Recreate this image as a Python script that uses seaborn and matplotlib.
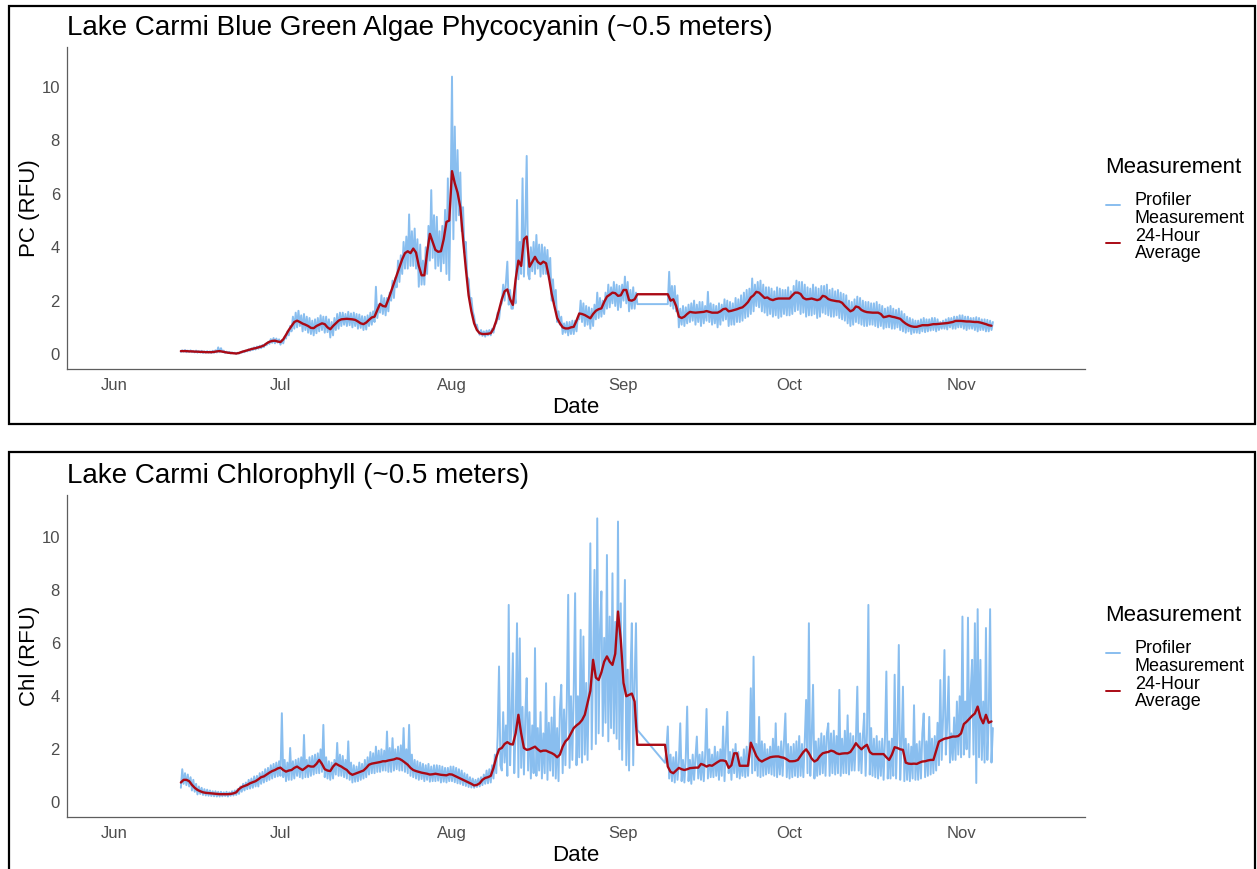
import pandas as pd
import matplotlib
matplotlib.use("Agg")
import matplotlib.pyplot as plt
import matplotlib.dates as mdates
from matplotlib.lines import Line2D
from matplotlib.patches import Rectangle
import seaborn as sns

# ---------------------------------------------------------------------------
# Profiler readings every 6 h and 24-hour averages every 12 h, 13 Jun - 6 Nov.
# None marks the early-September gap in the record.
# ---------------------------------------------------------------------------
START = "2018-06-13"

pc_profiler = [
    0.08, 0.14, 0.09, 0.15,  0.07, 0.13, 0.08, 0.14,   # Jun 13-14
    0.07, 0.12, 0.06, 0.13,  0.05, 0.11, 0.06, 0.12,
    0.04, 0.10, 0.05, 0.11,  0.05, 0.10, 0.04, 0.12,
    0.05, 0.14, 0.06, 0.25,  0.07, 0.22, 0.08, 0.13,
    0.04, 0.09, 0.05, 0.08,  0.02, 0.06, 0.03, 0.05,
    0.01, 0.05, 0.02, 0.07,  0.05, 0.11, 0.07, 0.13,
    0.10, 0.18, 0.12, 0.21,  0.15, 0.25, 0.17, 0.28,
    0.20, 0.31, 0.22, 0.34,  0.26, 0.38, 0.33, 0.45,
    0.38, 0.56, 0.42, 0.60,  0.40, 0.58, 0.43, 0.55,
    0.35, 0.52, 0.40, 0.65,  0.58, 0.85, 0.70, 1.05,   # Jun 30 - Jul 1
    0.85, 1.40, 0.95, 1.55,  1.00, 1.62, 1.05, 1.45,
    0.85, 1.50, 0.90, 1.40,  0.80, 1.35, 0.75, 1.25,
    0.70, 1.30, 0.78, 1.35,  0.85, 1.45, 0.90, 1.40,
    0.80, 1.40, 0.82, 1.30,  0.62, 1.20, 0.70, 1.35,
    0.90, 1.50, 0.95, 1.55,  1.05, 1.55, 1.10, 1.50,
    1.05, 1.58, 1.08, 1.52,  1.00, 1.55, 1.05, 1.50,
    0.95, 1.48, 0.98, 1.42,  0.90, 1.40, 0.92, 1.45,
    1.05, 1.55, 1.10, 1.60,  1.20, 2.52, 1.35, 1.85,
    1.55, 2.20, 1.50, 2.10,  1.45, 2.10, 1.60, 2.30,
    2.00, 2.75, 2.10, 2.85,  2.50, 3.50, 2.70, 3.70,
    3.00, 4.20, 3.20, 4.40,  3.20, 5.23, 3.30, 4.60,
    3.30, 4.70, 3.20, 4.30,  2.52, 4.10, 2.60, 3.50,
    2.60, 4.00, 3.00, 4.80,  3.50, 6.14, 3.60, 5.20,
    3.20, 5.14, 3.30, 4.60,  3.10, 4.80, 3.40, 5.40,
    3.00, 6.58, 2.77, 5.80,  10.39, 4.30, 8.52, 5.00,  # Jul 31 - Aug 1
    7.64, 5.20, 6.80, 4.60,  5.50, 3.80, 4.20, 2.90,
    2.80, 2.00, 2.10, 1.60,  1.40, 1.05, 1.10, 0.85,
    0.72, 0.90, 0.68, 0.85,  0.65, 0.88, 0.70, 0.90,
    0.70, 0.95, 0.80, 1.10,  1.15, 1.55, 1.30, 1.80,
    1.90, 2.60, 2.00, 2.70,  3.46, 1.85, 2.40, 1.70,
    1.70, 2.30, 1.90, 5.77,  2.80, 4.20, 3.00, 6.58,
    2.90, 4.80, 7.42, 3.00,  2.80, 4.00, 3.10, 4.20,
    3.00, 4.46, 3.20, 4.10,  2.90, 4.10, 3.00, 4.00,
    3.00, 3.90, 2.80, 3.60,  2.00, 2.80, 1.90, 2.40,
    1.20, 1.60, 1.10, 1.40,  0.75, 1.15, 0.80, 1.20,
    0.70, 1.20, 0.75, 1.25,  0.75, 1.25, 0.85, 1.40,
    1.30, 2.00, 1.20, 1.90,  1.05, 1.80, 1.10, 1.75,
    0.95, 1.70, 1.05, 1.85,  1.30, 2.30, 1.35, 2.10,
    1.40, 2.00, 1.50, 2.30,  1.70, 2.60, 1.75, 2.50,
    1.90, 2.70, 1.80, 2.60,  1.65, 2.55, 1.75, 2.60,   # Aug 30-31
    2.00, 2.90, 1.90, 2.70,  1.60, 2.40, 1.70, 2.50,
    1.70, 2.30, 1.87, None,  None, None, None, None,
    None, None, None, None,  None, None, None, None,
    None, None, None, None,  None, None, None, None,
    1.87, 3.08, 1.80, 2.55,  1.70, 2.55, 1.60, 2.20,
    1.00, 1.70, 1.10, 1.80,  1.05, 1.75, 1.15, 1.85,
    1.20, 1.90, 1.25, 2.00,  1.10, 1.85, 1.20, 1.95,
    1.05, 1.95, 1.15, 1.80,  1.25, 2.33, 1.20, 1.90,
    1.10, 1.85, 1.15, 1.80,  1.00, 1.90, 1.10, 1.85,
    1.25, 2.05, 1.30, 2.00,  1.05, 1.95, 1.10, 1.90,
    1.10, 2.10, 1.20, 2.05,  1.20, 2.20, 1.25, 2.30,
    1.35, 2.40, 1.40, 2.45,  1.50, 2.83, 1.60, 2.60,
    1.80, 2.70, 1.75, 2.75,  1.60, 2.60, 1.55, 2.50,
    1.45, 2.50, 1.50, 2.45,  1.40, 2.35, 1.45, 2.50,
    1.35, 2.45, 1.40, 2.40,  1.50, 2.40, 1.45, 2.50,
    1.45, 2.35, 1.50, 2.55,  1.60, 2.75, 1.65, 2.70,
    1.50, 2.70, 1.55, 2.60,  1.40, 2.50, 1.45, 2.45,
    1.45, 2.60, 1.50, 2.50,  1.35, 2.45, 1.40, 2.55,
    1.55, 2.55, 1.50, 2.60,  1.45, 2.40, 1.40, 2.45,
    1.40, 2.35, 1.45, 2.40,  1.35, 2.30, 1.30, 2.25,
    1.25, 2.20, 1.15, 2.00,  1.05, 1.95, 1.10, 2.05,
    1.20, 2.15, 1.15, 2.10,  1.10, 2.00, 1.05, 1.95,
    1.05, 1.95, 1.10, 1.90,  1.10, 1.90, 1.05, 1.95,
    1.00, 1.85, 1.05, 1.80,  0.95, 1.70, 1.00, 1.75,
    1.00, 1.80, 0.95, 1.70,  0.95, 1.65, 1.00, 1.70,
    0.90, 1.60, 0.85, 1.50,  0.80, 1.40, 0.85, 1.35,
    0.75, 1.30, 0.80, 1.25,  0.80, 1.25, 0.78, 1.30,
    0.85, 1.35, 0.82, 1.30,  0.85, 1.30, 0.88, 1.35,
    0.90, 1.35, 0.85, 1.30,  0.90, 1.20, 0.95, 1.25,
    0.95, 1.30, 0.92, 1.35,  1.00, 1.35, 0.95, 1.40,
    0.95, 1.40, 1.00, 1.45,  1.00, 1.45, 0.95, 1.40,
    0.90, 1.40, 0.95, 1.35,  0.95, 1.35, 0.90, 1.38,
    0.85, 1.35, 0.90, 1.30,  0.90, 1.30, 0.85, 1.28,
    0.85, 1.25, 0.90, 1.20,                            # Nov 6
]

pc_daily = [
    0.11, 0.11, 0.11, 0.10, 0.10, 0.09, 0.09, 0.08, 0.08, 0.07,
    0.07, 0.07, 0.08, 0.10, 0.11, 0.09, 0.07, 0.05, 0.04, 0.03,
    0.02, 0.04, 0.08, 0.11, 0.14, 0.17, 0.20, 0.22, 0.25, 0.28,
    0.32, 0.40, 0.46, 0.49, 0.50, 0.47, 0.45, 0.55, 0.72, 0.90,
    1.05, 1.20, 1.25, 1.20, 1.14, 1.10, 1.05, 0.98, 0.97, 1.05,
    1.10, 1.15, 1.12, 1.00, 0.93, 1.05, 1.15, 1.25, 1.30, 1.31,
    1.32, 1.31, 1.30, 1.28, 1.22, 1.15, 1.12, 1.18, 1.28, 1.37,
    1.40, 1.65, 1.88, 1.80, 1.78, 2.05, 2.35, 2.65, 2.95, 3.25,
    3.55, 3.78, 3.85, 3.78, 3.95, 3.80, 3.30, 2.95, 2.95, 3.80,
    4.50, 4.20, 3.90, 3.83, 3.85, 4.30, 4.95, 5.00, 6.85, 6.40,
    6.05, 5.50, 4.30, 3.20, 2.20, 1.60, 1.15, 0.90, 0.78, 0.75,
    0.75, 0.76, 0.78, 0.95, 1.25, 1.65, 2.05, 2.35, 2.42, 2.05,
    1.84, 2.80, 3.50, 3.30, 4.30, 4.40, 3.27, 3.45, 3.64, 3.45,
    3.37, 3.46, 3.40, 2.90, 2.27, 1.80, 1.35, 1.15, 1.00, 0.96,
    0.96, 1.00, 1.02, 1.25, 1.52, 1.50, 1.46, 1.40, 1.34, 1.50,
    1.62, 1.68, 1.71, 1.95, 2.15, 2.22, 2.30, 2.28, 2.18, 2.20,
    2.40, 2.40, 2.02, 2.00, 2.05, 2.24, 2.24, None, None, None,
    None, None, None, None, None, 2.24, 2.24, 2.00, 2.05, 1.80,
    1.40, 1.35, 1.40, 1.50, 1.58, 1.56, 1.55, 1.56, 1.57, 1.58,
    1.61, 1.58, 1.55, 1.55, 1.55, 1.60, 1.68, 1.70, 1.60, 1.62,
    1.65, 1.68, 1.72, 1.75, 1.84, 1.95, 2.12, 2.20, 2.33, 2.30,
    2.20, 2.10, 2.12, 2.05, 2.02, 2.06, 2.08, 2.08, 2.08, 2.08,
    2.08, 2.20, 2.30, 2.30, 2.25, 2.10, 2.05, 2.06, 2.08, 2.05,
    2.02, 2.05, 2.18, 2.15, 2.06, 2.02, 2.00, 1.98, 1.97, 1.92,
    1.80, 1.70, 1.60, 1.65, 1.78, 1.75, 1.65, 1.60, 1.57, 1.56,
    1.55, 1.55, 1.55, 1.50, 1.38, 1.40, 1.43, 1.40, 1.38, 1.35,
    1.32, 1.22, 1.14, 1.08, 1.04, 1.02, 1.02, 1.05, 1.08, 1.08,
    1.08, 1.10, 1.12, 1.12, 1.13, 1.14, 1.15, 1.16, 1.18, 1.20,
    1.24, 1.24, 1.24, 1.23, 1.22, 1.22, 1.21, 1.20, 1.20, 1.18,
    1.15, 1.12, 1.08, 1.06,
]

chl_profiler = [
    0.55, 1.25, 0.70, 1.10,  0.65, 1.05, 0.60, 0.95,   # Jun 13-14
    0.45, 0.85, 0.40, 0.70,  0.30, 0.60, 0.32, 0.55,
    0.28, 0.50, 0.26, 0.48,  0.25, 0.45, 0.24, 0.42,
    0.23, 0.42, 0.22, 0.40,  0.22, 0.40, 0.23, 0.38,
    0.24, 0.40, 0.22, 0.38,  0.25, 0.42, 0.26, 0.45,
    0.28, 0.50, 0.32, 0.60,  0.40, 0.70, 0.45, 0.75,
    0.50, 0.85, 0.52, 0.90,  0.55, 0.98, 0.60, 1.00,
    0.60, 1.10, 0.70, 1.15,  0.75, 1.25, 0.80, 1.30,
    0.85, 1.40, 0.90, 1.45,  0.95, 1.50, 0.98, 1.55,
    1.00, 3.36, 0.95, 1.60,  0.80, 1.50, 0.85, 2.05,   # Jun 30 - Jul 1
    0.85, 1.55, 0.90, 1.60,  1.00, 1.65, 0.95, 1.70,
    0.90, 2.54, 0.95, 1.60,  0.95, 1.70, 1.00, 1.75,
    1.05, 1.80, 1.10, 1.85,  1.10, 2.00, 1.15, 2.92,
    0.95, 1.70, 0.90, 1.55,  0.85, 1.50, 0.90, 1.60,
    1.05, 2.24, 1.00, 1.80,  1.00, 1.75, 0.95, 1.60,
    0.90, 2.30, 0.85, 1.50,  0.75, 1.40, 0.78, 1.35,
    0.80, 1.50, 0.85, 1.45,  0.90, 1.60, 0.95, 1.70,
    1.05, 1.90, 1.10, 1.85,  1.10, 2.10, 1.15, 1.95,
    1.15, 2.00, 1.20, 1.95,  1.20, 2.67, 1.15, 2.05,
    1.15, 2.42, 1.20, 2.00,  1.25, 2.10, 1.20, 2.15,
    1.20, 2.80, 1.15, 2.00,  1.10, 2.92, 1.00, 1.80,
    0.95, 1.60, 0.90, 1.55,  0.85, 1.50, 0.88, 1.45,
    0.80, 1.40, 0.85, 1.45,  0.78, 1.35, 0.80, 1.40,
    0.80, 1.40, 0.82, 1.38,  0.75, 1.35, 0.78, 1.30,
    0.75, 1.30, 0.80, 1.35,  0.80, 1.35, 0.76, 1.30,   # Jul 31 - Aug 1
    0.72, 1.25, 0.70, 1.20,  0.65, 1.10, 0.62, 1.05,
    0.58, 0.95, 0.56, 0.90,  0.55, 0.85, 0.58, 0.90,
    0.60, 0.95, 0.65, 1.05,  0.70, 1.20, 0.72, 1.25,
    0.75, 1.40, 0.90, 1.80,  1.10, 2.50, 5.12, 1.40,
    1.20, 3.40, 1.50, 2.90,  1.00, 7.44, 1.40, 3.20,
    5.62, 1.10, 2.80, 6.75,  0.95, 6.18, 1.30, 3.60,
    1.05, 3.30, 4.68, 1.20,  3.40, 0.90, 2.90, 1.10,
    5.81, 1.00, 2.80, 1.20,  3.40, 0.90, 2.60, 1.10,
    4.49, 0.85, 3.00, 1.20,  3.20, 1.00, 3.98, 0.90,
    2.80, 0.80, 3.50, 4.43,  1.10, 3.50, 1.40, 3.80,
    7.82, 1.30, 4.00, 1.60,  4.20, 7.88, 1.40, 4.00,
    1.70, 6.50, 1.50, 6.25,  1.80, 4.50, 1.60, 4.80,
    9.76, 2.00, 5.50, 8.76,  2.20, 10.70, 2.60, 6.50,
    7.95, 2.50, 6.20, 3.00,  9.32, 2.30, 7.00, 2.80,
    8.63, 2.60, 6.80, 2.40,  10.58, 2.00, 7.50, 1.60,  # Aug 30-31
    5.50, 8.38, 1.40, 5.00,  1.20, 4.80, 6.75, 1.40,
    4.50, 6.75, 2.73, None,  None, None, None, None,
    None, None, None, None,  None, None, None, None,
    None, None, None, None,  None, None, 1.49, 2.00,
    2.86, 0.90, 1.80, 0.80,  1.70, 0.75, 1.90, 0.85,
    1.50, 2.98, 0.80, 1.60,  0.75, 1.70, 3.61, 0.80,
    1.60, 0.70, 1.80, 0.85,  1.70, 2.48, 0.90, 1.80,
    0.85, 1.90, 0.80, 1.80,  3.52, 0.90, 2.00, 0.95,
    1.80, 0.95, 2.10, 1.00,  1.90, 0.85, 2.00, 1.00,
    2.86, 0.80, 2.20, 3.41,  1.10, 1.90, 0.85, 2.00,
    1.10, 2.20, 0.95, 1.90,  0.90, 1.70, 1.00, 2.00,
    0.95, 2.10, 1.00, 1.90,  4.30, 1.10, 5.49, 1.20,
    2.20, 1.00, 3.22, 0.95,  2.30, 1.00, 2.20, 1.05,
    2.00, 1.10, 2.10, 1.05,  2.40, 1.00, 2.98, 0.95,
    2.10, 1.05, 2.30, 1.00,  2.30, 3.35, 0.95, 2.20,
    0.90, 2.10, 0.95, 2.20,  1.00, 2.30, 0.95, 2.50,
    1.00, 2.20, 0.95, 2.30,  3.86, 1.10, 6.75, 1.00,
    2.40, 4.43, 0.90, 2.30,  1.00, 2.40, 1.05, 2.60,
    1.10, 2.50, 1.00, 2.60,  2.98, 1.00, 2.60, 1.10,
    2.70, 1.05, 2.50, 1.10,  4.24, 1.00, 2.40, 1.10,
    2.70, 1.10, 3.28, 1.05,  2.60, 1.20, 2.50, 1.20,
    2.40, 4.36, 1.20, 2.60,  1.10, 2.50, 3.35, 1.00,
    2.60, 7.44, 1.05, 2.80,  1.00, 2.40, 0.95, 2.50,
    0.90, 2.30, 1.00, 2.40,  0.85, 2.40, 4.93, 0.90,
    2.30, 0.90, 2.40, 1.00,  4.81, 0.90, 2.60, 5.93,
    0.85, 2.20, 4.36, 0.80,  2.40, 0.85, 2.20, 0.80,
    2.10, 0.90, 3.66, 0.85,  2.20, 0.85, 2.30, 0.90,
    2.60, 3.35, 0.95, 2.30,  1.00, 3.22, 1.05, 2.40,
    1.10, 2.50, 1.20, 3.00,  1.40, 4.61, 1.60, 3.20,
    5.74, 1.80, 3.00, 4.74,  1.50, 2.60, 1.60, 3.20,
    1.60, 3.80, 1.80, 4.00,  1.70, 7.00, 1.80, 3.80,
    2.00, 6.96, 1.70, 4.20,  5.37, 1.80, 6.75, 0.73,
    7.28, 1.70, 5.37, 1.60,  3.80, 1.50, 6.57, 1.60,
    3.20, 7.28, 1.50, 2.80,                            # Nov 6
]

chl_daily = [
    0.75, 0.85, 0.85, 0.80, 0.66, 0.55, 0.47, 0.42, 0.38, 0.36,
    0.35, 0.34, 0.33, 0.32, 0.31, 0.31, 0.31, 0.31, 0.32, 0.34,
    0.38, 0.50, 0.58, 0.62, 0.66, 0.72, 0.76, 0.80, 0.87, 0.95,
    0.98, 1.05, 1.12, 1.18, 1.22, 1.28, 1.31, 1.22, 1.16, 1.20,
    1.22, 1.30, 1.35, 1.28, 1.22, 1.30, 1.38, 1.35, 1.35, 1.45,
    1.60, 1.45, 1.25, 1.20, 1.18, 1.35, 1.46, 1.40, 1.35, 1.28,
    1.22, 1.10, 1.04, 1.08, 1.12, 1.16, 1.20, 1.30, 1.42, 1.46,
    1.48, 1.50, 1.52, 1.55, 1.55, 1.58, 1.60, 1.62, 1.66, 1.64,
    1.58, 1.50, 1.42, 1.30, 1.22, 1.18, 1.15, 1.12, 1.10, 1.08,
    1.05, 1.06, 1.08, 1.06, 1.04, 1.03, 1.02, 1.06, 1.05, 1.00,
    0.95, 0.90, 0.85, 0.80, 0.75, 0.70, 0.64, 0.66, 0.72, 0.85,
    0.92, 0.95, 1.00, 1.30, 1.70, 2.00, 2.05, 2.20, 2.27, 2.20,
    2.18, 2.60, 3.30, 2.60, 2.05, 1.98, 2.00, 2.05, 2.10, 2.00,
    1.92, 1.95, 1.95, 1.90, 1.86, 1.80, 1.70, 1.80, 2.10, 2.30,
    2.40, 2.60, 2.80, 2.90, 2.98, 3.10, 3.30, 3.75, 4.20, 5.37,
    4.70, 4.61, 4.90, 5.30, 5.50, 5.30, 5.18, 5.60, 7.19, 6.12,
    4.50, 4.00, 4.05, 4.10, 3.80, 2.17, 2.17, None, None, None,
    None, None, None, None, None, 2.17, 1.35, 1.15, 1.10, 1.20,
    1.30, 1.25, 1.22, 1.25, 1.29, 1.30, 1.31, 1.31, 1.45, 1.41,
    1.35, 1.40, 1.38, 1.45, 1.52, 1.58, 1.58, 1.55, 1.30, 1.40,
    1.85, 1.85, 1.38, 1.38, 1.38, 1.38, 2.25, 2.00, 1.75, 1.60,
    1.54, 1.60, 1.65, 1.70, 1.72, 1.73, 1.73, 1.70, 1.68, 1.62,
    1.55, 1.55, 1.56, 1.60, 1.75, 1.90, 2.00, 1.85, 1.65, 1.54,
    1.60, 1.75, 1.85, 1.88, 1.90, 1.95, 1.92, 1.85, 1.82, 1.84,
    1.85, 1.85, 1.90, 2.05, 2.23, 2.10, 2.00, 2.10, 2.17, 1.90,
    1.82, 1.82, 1.82, 1.82, 1.82, 1.70, 1.60, 1.80, 2.08, 2.05,
    2.00, 1.98, 1.50, 1.46, 1.45, 1.46, 1.45, 1.50, 1.54, 1.55,
    1.58, 1.60, 1.60, 1.95, 2.29, 2.35, 2.40, 2.42, 2.45, 2.48,
    2.48, 2.50, 2.60, 2.95, 3.04, 3.15, 3.26, 3.35, 3.61, 3.20,
    2.98, 3.30, 3.00, 3.05,
]

panel_titles = [
    "Lake Carmi Blue Green Algae Phycocyanin (~0.5 meters)",
    "Lake Carmi Chlorophyll (~0.5 meters)",
]
y_labels = ["PC (RFU)", "Chl (RFU)"]
series_labels = ["Profiler Measurement", "24-Hour Average"]
legend_lines = [["Profiler", "Measurement"], ["24-Hour", "Average"]]
y_ticks = [0, 2, 4, 6, 8, 10]

BLUE = "#89BEEF"
RED = "#AA0A15"
AXIS = "#5E5E5E"
TICKTXT = "#4D4D4D"

sns.set_theme(style="white")
plt.rcParams["font.family"] = ["Liberation Sans", "DejaVu Sans"]

W, H = 1257, 869
fig = plt.figure(figsize=(W / 100, H / 100), dpi=100)
fig.patch.set_facecolor("white")


def fx(px):
    return px / W


def fy(py):
    return 1 - py / H


def series_frame(values, freq, label):
    df = pd.DataFrame({
        "Date": pd.date_range(START, periods=len(values), freq=freq),
        "value": pd.to_numeric(pd.Series(values, dtype="object"), errors="coerce"),
    })
    return df.assign(Measurement=label).dropna()


panels = [
    (pc_profiler, pc_daily, 0, (-0.56, 11.5)),
    (chl_profiler, chl_daily, 448, (-0.55, 11.58)),
]

x_left = pd.Timestamp("2018-06-01") - pd.Timedelta(days=8.58)
x_right = pd.Timestamp("2018-06-01") + pd.Timedelta(days=175.4)

# panel borders
fig.patches.append(Rectangle((fx(9), fy(424)), fx(1255) - fx(9), (424 - 6) / H,
                             transform=fig.transFigure, fill=False,
                             edgecolor="black", linewidth=1.6))
fig.patches.append(Rectangle((fx(9), fy(H + 5)), fx(1255) - fx(9), (H + 5 - 452) / H,
                             transform=fig.transFigure, fill=False,
                             edgecolor="black", linewidth=1.6))

for i, (prof, daily, off, ylim) in enumerate(panels):
    ax = fig.add_axes([fx(67), fy(369 + off), fx(1085) - fx(67), (369 - 47) / H])

    prof_df = series_frame(prof, "6h", series_labels[0])
    daily_df = series_frame(daily, "12h", series_labels[1])

    sns.lineplot(data=prof_df, x="Date", y="value", color=BLUE, linewidth=1.4,
                 estimator=None, sort=False, legend=False, ax=ax)
    sns.lineplot(data=daily_df, x="Date", y="value", color=RED, linewidth=1.7,
                 estimator=None, sort=False, legend=False, ax=ax)

    ax.set_xlim(x_left, x_right)
    ax.set_ylim(*ylim)
    ax.set_yticks(y_ticks)
    ax.xaxis.set_major_locator(mdates.MonthLocator())
    ax.xaxis.set_major_formatter(mdates.DateFormatter("%b"))
    ax.set_xlabel("")
    ax.set_ylabel("")
    sns.despine(ax=ax)
    for side in ("left", "bottom"):
        ax.spines[side].set_color(AXIS)
        ax.spines[side].set_linewidth(0.9)
    ax.tick_params(axis="both", which="major", length=2.6, width=0.8,
                   color=AXIS, labelcolor=TICKTXT, labelsize=12, pad=2.5)
    ax.tick_params(axis="x", pad=4)
    ax.set_facecolor("white")

    # titles and axis titles
    fig.text(fx(67), fy(35 + off), panel_titles[i], fontsize=20, color="black",
             ha="left", va="baseline")
    fig.text(fx(576), fy(413 + off), "Date", fontsize=16, color="black",
             ha="center", va="baseline")
    fig.text(fx(29), fy(208 + off), y_labels[i], fontsize=16, color="black",
             ha="center", va="center", rotation=90)

    # legend
    fig.text(fx(1105), fy(173 + off), "Measurement", fontsize=16, color="black",
             ha="left", va="baseline")
    for color, ykey, lines, bases in [
        (BLUE, 205, legend_lines[0], (205, 223)),
        (RED, 243, legend_lines[1], (241, 258)),
    ]:
        fig.add_artist(Line2D([fx(1106), fx(1120)], [fy(ykey + off)] * 2,
                              transform=fig.transFigure, color=color, linewidth=1.4))
        for txt, b in zip(lines, bases):
            fig.text(fx(1135), fy(b + off), txt, fontsize=13, color="black",
                     ha="left", va="baseline")

fig.savefig("out.png", dpi=100, facecolor="white")
